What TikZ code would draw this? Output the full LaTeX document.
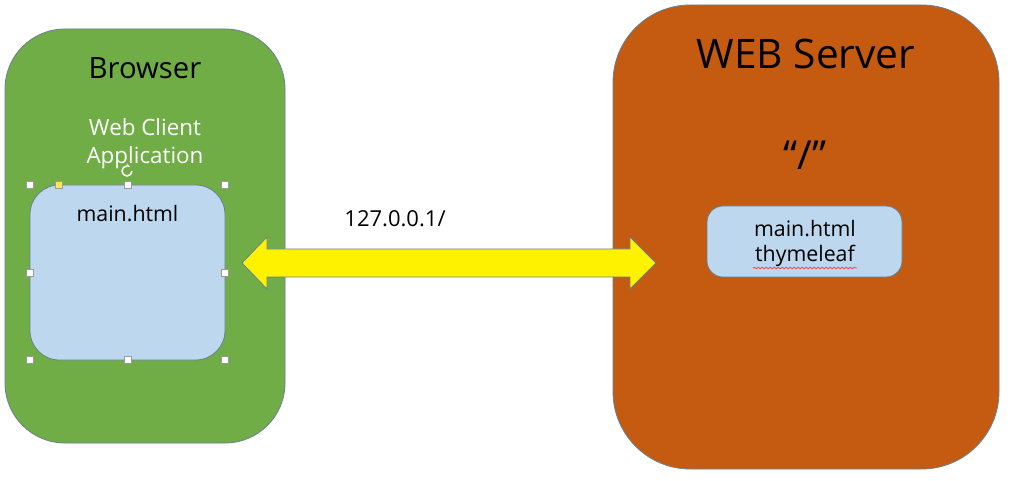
\documentclass[tikz,border=0pt]{standalone}
\usepackage{fontspec}
\setmainfont{Open Sans}
\usetikzlibrary{decorations.pathmorphing,arrows.meta}
\definecolor{brgreen}{HTML}{70AD47}
\definecolor{srvorange}{HTML}{C55A11}
\definecolor{pageblue}{HTML}{BDD7EE}
\definecolor{edgegray}{HTML}{6A7F8E}
\tikzset{
  panel/.style={draw=edgegray, line width=0.6pt},
  handle/.style={draw=gray!80, fill=white, line width=0.4pt, minimum size=5pt, inner sep=0pt},
  lbl/.style={inner sep=0pt, anchor=base},
}
\begin{document}
\begin{tikzpicture}[x=0.75pt,y=-0.75pt]
\useasboundingbox (0,0) rectangle (1011,481);
% browser panel
\filldraw[panel, fill=brgreen, rounded corners=45] (5,29) rectangle (285,443);
\node[lbl, font=\fontsize{22}{26}\selectfont] (browsertitle) at (145,79) {Browser};
\node[lbl, font=\fontsize{16.8}{20}\selectfont, text=white] (wca1) at (145,136) {Web Client};
\node[lbl, font=\fontsize{16.8}{20}\selectfont, text=white] (wca2) at (145,164) {Application};
% client page
\filldraw[panel, fill=pageblue, rounded corners=22] (30,185) rectangle (225,360);
\node[lbl, font=\fontsize{16}{19}\selectfont] (clientpage) at (127.5,222) {main.html};
% selection handles
\foreach \hx/\hy [count=\i] in {30/185,127.5/185,225/185,30/272.5,225/272.5,30/360,127.5/360,225/360}
  \node[handle] (h\i) at (\hx,\hy) {};
\node[handle, fill=yellow!70!orange!60] (hy) at (59,185) {};
\draw[white, line width=1.1pt, -{Stealth[length=3pt]}] (132,171) arc (0:300:5);
% server panel
\filldraw[panel, fill=srvorange, rounded corners=58] (613,5) rectangle (999,469);
\node[lbl, font=\fontsize{30.5}{35}\selectfont] (servertitle) at (806,69) {WEB Server};
\node[lbl, font=\fontsize{30}{34}\selectfont] (route) at (805,170) {“/”};
\filldraw[panel, fill=pageblue, rounded corners=12] (707,206) rectangle (902,277);
\node[lbl, font=\fontsize{16}{19}\selectfont] (srv1) at (805,237) {main.html};
\node[lbl, font=\fontsize{16}{19}\selectfont] (srv2) at (805,262) {thymeleaf};
\draw[red!80!white, line width=0.5pt, decorate, decoration={snake, amplitude=0.6pt, segment length=3pt}] (753,268) -- (857,268);
% double arrow
\coordinate (lt) at (242,263);
\coordinate (rt) at (656,263);
\filldraw[draw=edgegray, line width=0.6pt, fill=yellow]
  (lt) -- (267,237) -- (267,249) -- (630,249) -- (630,237) -- (rt)
  -- (630,289) -- (630,277) -- (267,277) -- (267,289) -- cycle;
\node[lbl, font=\fontsize{16.5}{20}\selectfont] (addr) at (395,227) {127.0.0.1/};
\end{tikzpicture}
\end{document}
